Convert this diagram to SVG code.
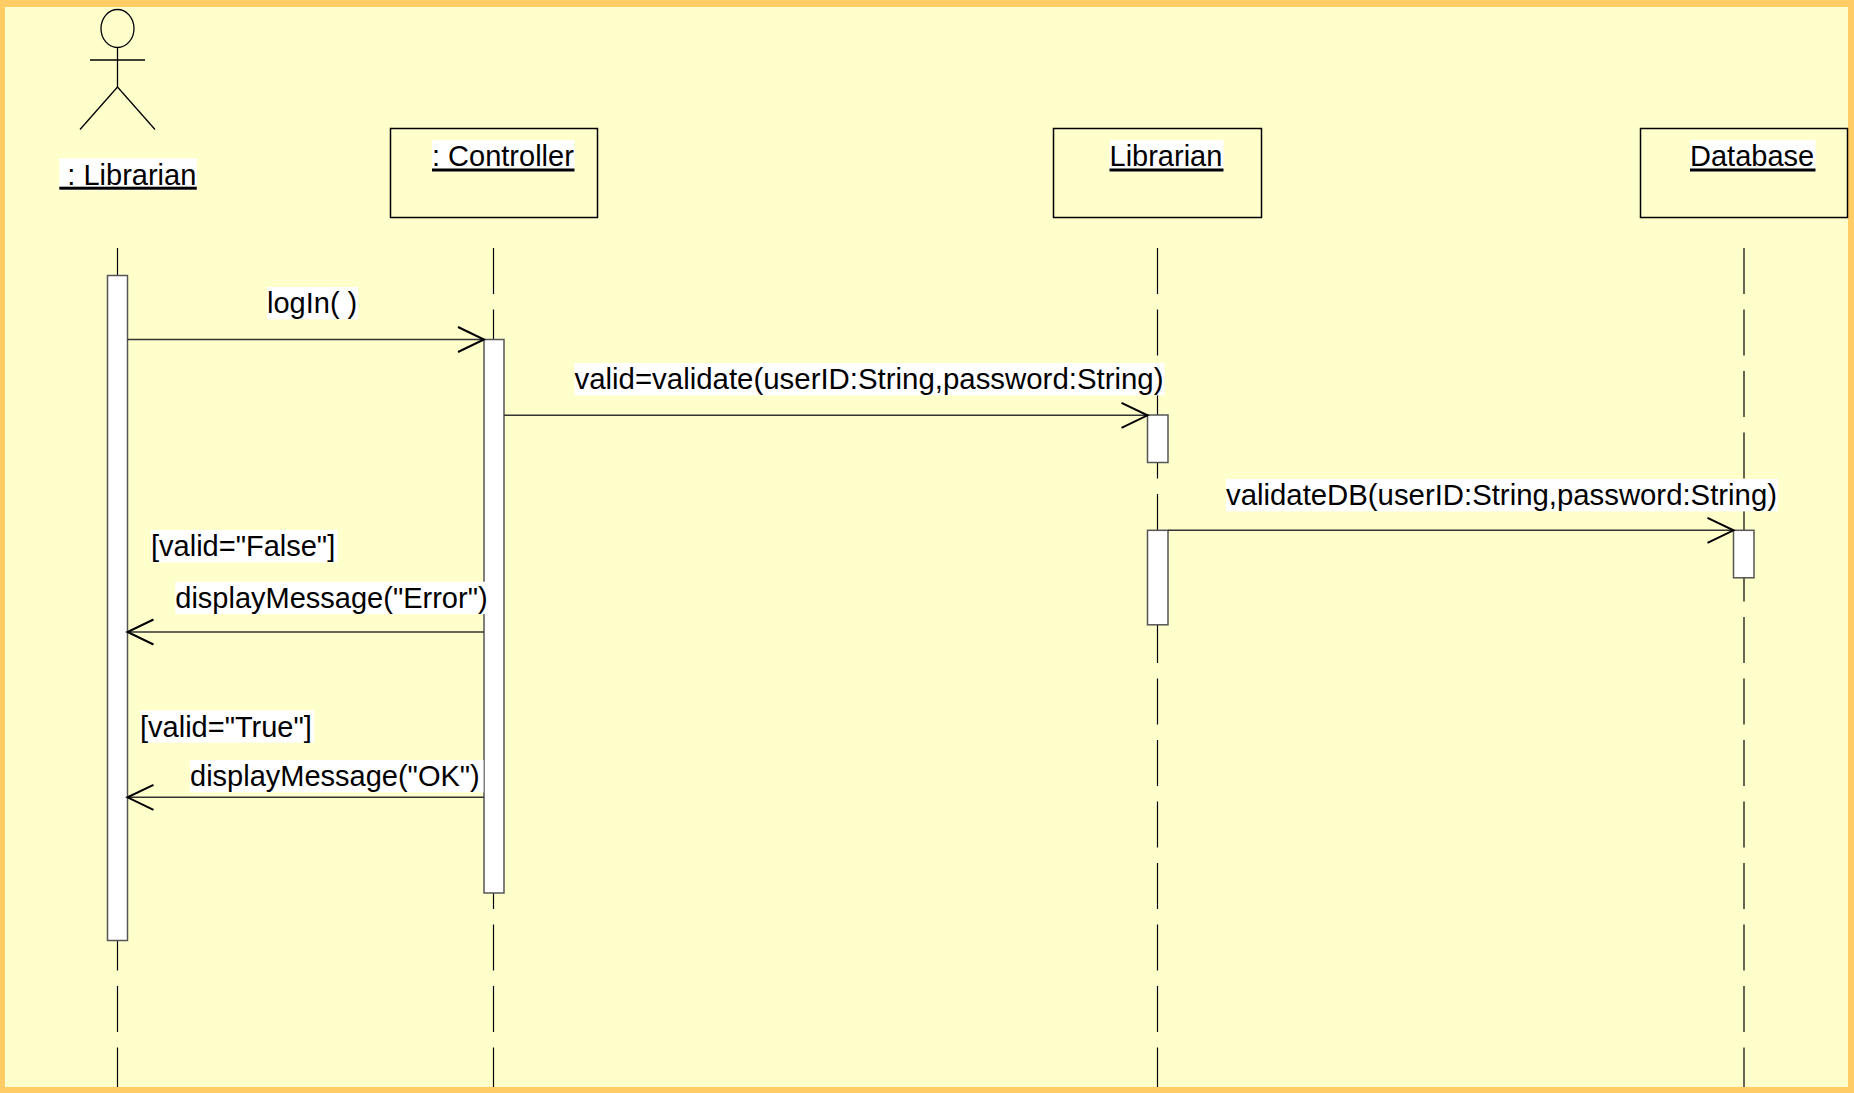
<svg xmlns="http://www.w3.org/2000/svg" width="1854" height="1093" viewBox="0 0 1854 1093">
<style>
.lbl{font-family:"Liberation Sans",Arial,sans-serif;font-size:29px;fill:#000}
.bg{fill:#fff}
.box{fill:none;stroke:#000;stroke-width:1.5}
.life{stroke:#000;stroke-width:1.2;stroke-dasharray:46 15.5;fill:none}
.act{fill:#fff;stroke:#555;stroke-width:1.5}
.msg{stroke:#333;stroke-width:1.6;fill:none}
.fig{stroke:#000;stroke-width:1.3;fill:none}
.ul{fill:#000}
</style>
<defs>
<marker id="open" markerUnits="userSpaceOnUse" markerWidth="32" markerHeight="32" viewBox="-2 -2 32 32" refX="26" refY="12.5" orient="auto">
<path d="M0,0 L26,12.5 L0,25" fill="none" stroke="#000" stroke-width="2"/>
</marker>
</defs>
<rect x="0" y="0" width="1854" height="1093" fill="#FFCC66"/>
<rect x="5" y="7" width="1843" height="1080" fill="#FFFFCC"/>

<g id="actor-librarian">
<ellipse class="fig" cx="117.5" cy="28.5" rx="16.5" ry="19"/>
<line class="fig" x1="117.5" y1="47.5" x2="117.5" y2="87"/>
<line class="fig" x1="90" y1="60" x2="145" y2="60"/>
<line class="fig" x1="117.5" y1="87" x2="80" y2="129.5"/>
<line class="fig" x1="117.5" y1="87" x2="155" y2="129.5"/>
<rect class="bg" x="59.3" y="158.3" width="137.5" height="32"/>
<text class="lbl" x="59.3" y="184.5" xml:space="preserve"> : Librarian</text>
<rect class="ul" x="59.3" y="186.7" width="137.5" height="3"/>
<line class="life" x1="117.5" y1="248" x2="117.5" y2="1087"/>
<rect class="act" x="107.5" y="275.5" width="20" height="665"/>
</g>

<g id="controller">
<rect class="box" x="390.5" y="128.5" width="207" height="89"/>
<rect class="bg" x="432" y="140" width="142.5" height="32"/>
<text class="lbl" x="432" y="166.2">: Controller</text>
<rect class="ul" x="432" y="168.5" width="142.5" height="3"/>
<line class="life" x1="493.5" y1="248" x2="493.5" y2="1087"/>
<rect class="act" x="484" y="339.5" width="20" height="553.5"/>
</g>

<g id="librarian">
<rect class="box" x="1053.5" y="128.5" width="208" height="89"/>
<rect class="bg" x="1109.5" y="140" width="114" height="32"/>
<text class="lbl" x="1109.5" y="166.2">Librarian</text>
<rect class="ul" x="1109.5" y="168.5" width="114" height="3"/>
<line class="life" x1="1157.5" y1="248" x2="1157.5" y2="1087"/>
<rect class="act" x="1147.5" y="415" width="20.5" height="47.5"/>
<rect class="act" x="1147.5" y="530.3" width="20.5" height="94.5"/>
</g>

<g id="database">
<rect class="box" x="1640.5" y="128.5" width="207" height="89"/>
<rect class="bg" x="1690" y="140" width="125.5" height="32"/>
<text class="lbl" x="1690" y="166.2">Database</text>
<rect class="ul" x="1690" y="168.5" width="125.5" height="3"/>
<line class="life" x1="1744" y1="248" x2="1744" y2="1087"/>
<rect class="act" x="1733.5" y="530.3" width="20.5" height="47.5"/>
</g>

<g id="connectors">
<line class="msg" x1="127.5" y1="339.5" x2="484" y2="339.5" marker-end="url(#open)"/>
<rect class="bg" x="267" y="287" width="91" height="32.4"/>
<text class="lbl" x="267" y="313.3" xml:space="preserve">logIn( )</text>

<line class="msg" x1="504" y1="415.3" x2="1147.5" y2="415.3" marker-end="url(#open)"/>
<rect class="bg" x="574.5" y="363" width="590" height="32.4"/>
<text class="lbl" x="574.5" y="389.2" textLength="589" lengthAdjust="spacingAndGlyphs">valid=validate(userID:String,password:String)</text>

<line class="msg" x1="1168" y1="530.3" x2="1733.5" y2="530.3" marker-end="url(#open)"/>
<rect class="bg" x="1226" y="479" width="552" height="32.4"/>
<text class="lbl" x="1226" y="505.2" textLength="551" lengthAdjust="spacingAndGlyphs">validateDB(userID:String,password:String)</text>

<rect class="bg" x="151" y="530" width="186.3" height="32.4"/>
<text class="lbl" x="151" y="556.2">[valid="False"]</text>

<line class="msg" x1="484" y1="632" x2="127.5" y2="632" marker-end="url(#open)"/>
<rect class="bg" x="175.3" y="581.7" width="311.5" height="32.4"/>
<text class="lbl" x="175.3" y="607.9">displayMessage("Error")</text>

<rect class="bg" x="140" y="710.3" width="174.3" height="32.4"/>
<text class="lbl" x="140" y="736.5">[valid="True"]</text>

<line class="msg" x1="484" y1="797.3" x2="127.5" y2="797.3" marker-end="url(#open)"/>
<rect class="bg" x="190" y="760" width="293.5" height="32.4"/>
<text class="lbl" x="190" y="786.2">displayMessage("OK")</text>
</g>
</svg>
